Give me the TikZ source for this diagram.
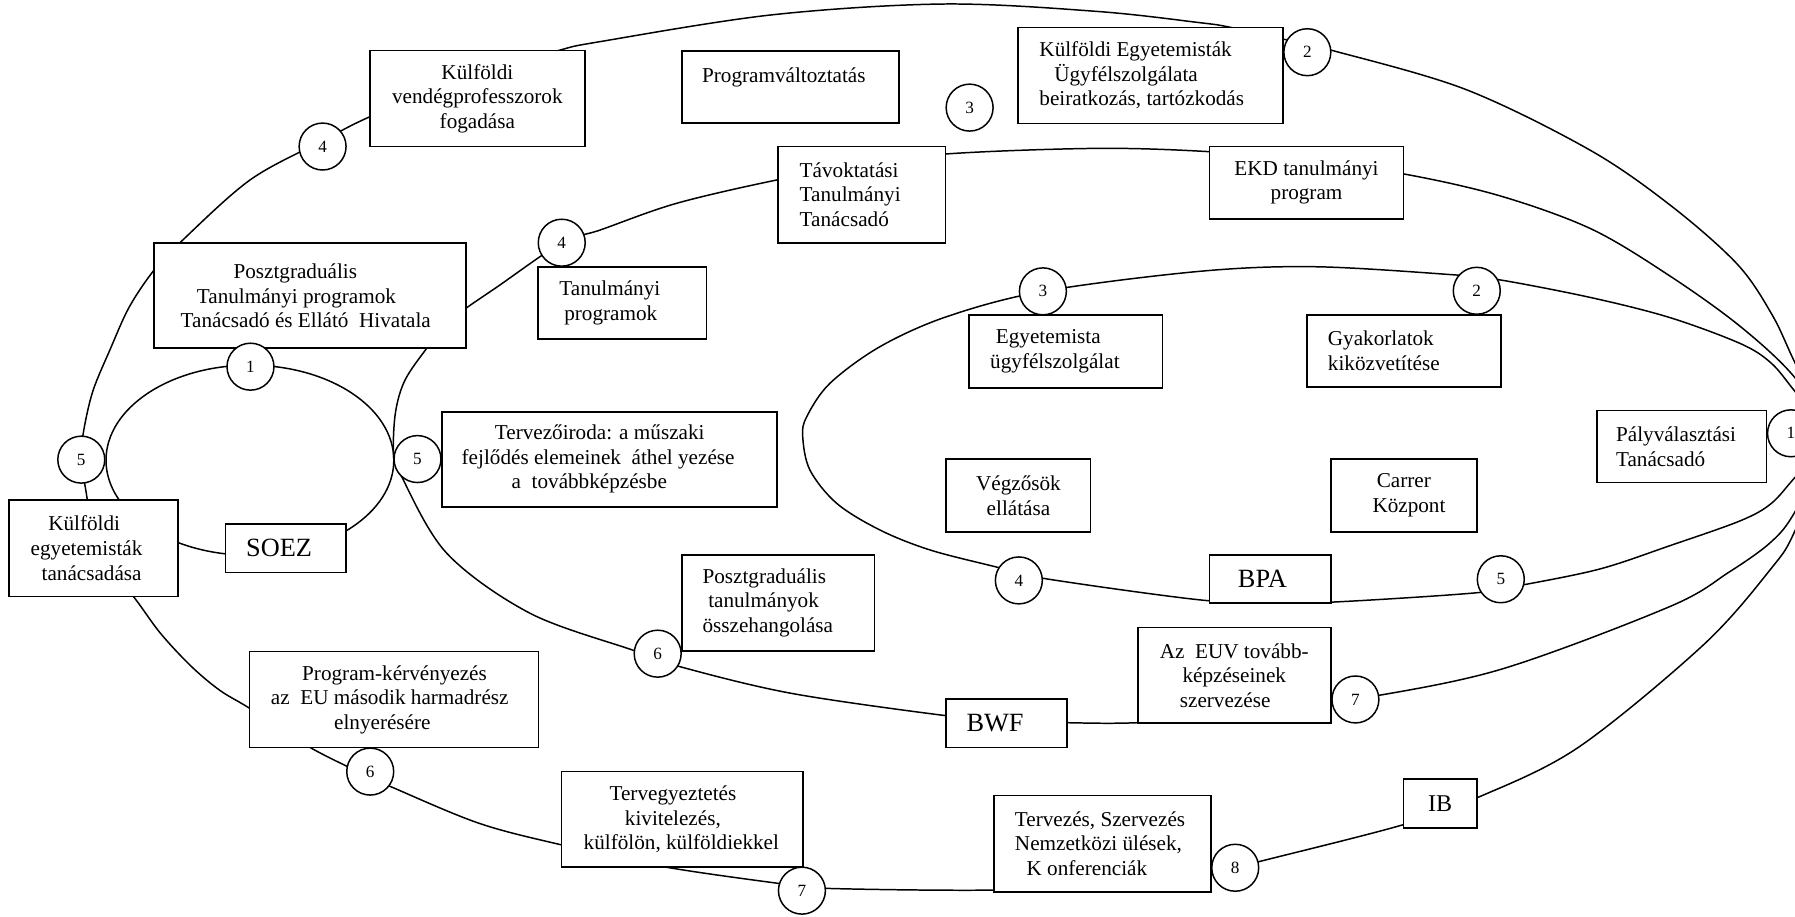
\documentclass[tikz,border=0pt]{standalone}
\usepackage{fontspec}
\setmainfont{Liberation Serif}
\usetikzlibrary{backgrounds}
\begin{document}
\begin{tikzpicture}[x=1pt,y=-1pt,
  box/.style={draw, fill=white, line width=1.5pt, rectangle, inner ysep=0pt, font=\fontsize{18.5}{21.5}\selectfont},
  lbox/.style={box, align=flush left},
  cbox/.style={box, align=flush center},
  big/.style={font=\fontsize{23}{26}\selectfont},
  circ/.style={circle, draw, fill=white, line width=1.3pt, minimum size=41pt, inner sep=0pt, font=\fontsize{15}{18}\selectfont},
  conn/.style={line width=1.3pt, line join=round}
]
\useasboundingbox (0,0) rectangle (1568,801);

% ---------- boxes ----------
\node[cbox, minimum width=188pt, minimum height=84pt, inner xsep=9pt, text width=170pt] (kvp) at (417,86) {Külföldi\\vendégprofesszorok\\fogadása};
\node[lbox, minimum width=189pt, minimum height=63pt, inner xsep=17.3pt, text width=154.4pt] (pv) at (690.5,76.2) {Programváltoztatás\\\mbox{}};
\node[lbox, minimum width=232pt, minimum height=84pt, inner xsep=19pt, text width=194pt] (keu) at (1005,66) {Külföldi Egyetemisták\\\hspace*{13pt}Ügyfélszolgálata\\\mbox{beiratkozás, tartózkodás}};
\node[lbox, minimum width=146.4pt, minimum height=84pt, inner xsep=19pt, text width=108.4pt] (tav) at (752.8,170) {Távoktatási\\Tanulmányi\\Tanácsadó};
\node[cbox, minimum width=169.4pt, minimum height=63pt, inner xsep=9pt, text width=151.4pt] (ekd) at (1141.3,159.5) {EKD tanulmányi\\program};
\node[lbox, minimum width=147.3pt, minimum height=63.4pt, inner xsep=18.9pt, text width=109.5pt] (tp) at (543.4,264.7) {Tanulmányi\\\hspace*{4.3pt}programok};
\node[lbox, minimum width=272.5pt, minimum height=91.7pt, inner xsep=23.3pt, text width=225.9pt] (pth) at (270.75,258.4) {\hspace*{46.2pt}Posztgraduális\\\hspace*{14.2pt}Tanulmányi programok\\\mbox{Tanácsadó és Ellátó~ Hivatala}};
\node[lbox, minimum width=293.2pt, minimum height=83pt, inner xsep=17.5pt, text width=258.2pt] (tervi) at (532.4,401.1) {\hspace*{29pt}Tervezőiroda: a műszaki\\\mbox{fejlődés elemeinek~ áthel yezése}\\\hspace*{43.7pt}a~ továbbképzésbe};
\node[lbox, minimum width=168pt, minimum height=83.6pt, inner xsep=17.7pt, text width=132.6pt] (tpo) at (680,526.6) {Posztgraduális\\\hspace*{5pt}tanulmányok\\összehangolása};
\node[lbox, minimum width=147.8pt, minimum height=84.2pt, inner xsep=18.8pt, text width=110.2pt] (ke) at (81.9,478.9) {\hspace*{15.4pt}Külföldi\\egyetemisták\\\hspace*{9.6pt}tanácsadása};
\node[lbox, big, minimum width=105.5pt, minimum height=42pt, inner xsep=18pt, text width=69.5pt] (soez) at (249.75,479) {SOEZ};
\node[lbox, minimum width=252.4pt, minimum height=83.8pt, inner xsep=18.7pt, text width=215pt] (pk) at (344.2,611.1) {\hspace*{27.3pt}Program-kérvényezés\\\mbox{az~ EU második harmadrész}\\\hspace*{55.2pt}elnyerésére};
\node[lbox, minimum width=210.9pt, minimum height=83.6pt, inner xsep=19.5pt, text width=171.9pt] (tg) at (595.85,715.8) {\hspace*{22.6pt}Tervegyeztetés\\\hspace*{36pt}kivitelezés,\\\mbox{külfölön, külföldiekkel}};
\node[lbox, minimum width=189.6pt, minimum height=84pt, inner xsep=18.6pt, text width=152.4pt] (tsz) at (962.8,737) {\mbox{Tervezés, Szervezés}\\Nemzetközi ülések,\\\hspace*{10.2pt}K onferenciák};
\node[cbox, minimum width=168.8pt, minimum height=83.5pt, inner xsep=9pt, text width=150.8pt] (euv) at (1078.2,590) {Az~ EUV tovább-\\képzéseinek\\\hspace*{-16pt}szervezése};
\node[cbox, minimum width=126.1pt, minimum height=63.2pt, inner xsep=5pt, text width=116.1pt] (veg) at (889.65,432.8) {Végzősök\\ellátása};
\node[cbox, minimum width=127.4pt, minimum height=63.6pt, inner xsep=5pt, text width=117.4pt] (car) at (1226.3,432.8) {Carrer\\\hspace*{9pt}Központ};
\node[lbox, minimum width=169pt, minimum height=64pt, inner xsep=18.5pt, text width=132pt] (egy) at (931,307) {\hspace*{5pt}Egyetemista\\ügyfélszolgálat};
\node[lbox, minimum width=169.4pt, minimum height=63pt, inner xsep=18.4pt, text width=132.6pt] (gyak) at (1226.3,306.5) {Gyakorlatok\\kiközvetítése};
\node[lbox, minimum width=148pt, minimum height=63pt, inner xsep=16.7pt, text width=114.6pt] (paly) at (1469,390) {Pályválasztási\\Tanácsadó};
\node[lbox, big, minimum width=106pt, minimum height=42pt, inner xsep=24.8pt, text width=56.4pt] (bpa) at (1109.6,506) {BPA};
\node[lbox, big, minimum width=105.4pt, minimum height=42.4pt, inner xsep=17.7pt, text width=70pt] (bwf) at (879.3,631.8) {BWF};
\node[cbox, font=\fontsize{21}{24}\selectfont, minimum width=64pt, minimum height=42.4pt, inner xsep=5pt, text width=54pt] (ib) at (1258,701.8) {IB};

% ---------- numbered circles ----------
\node[circ] (c4a) at (281.8,128) {4};
\node[circ] (c3t) at (847,94) {3};
\node[circ] (c2t) at (1142,45.6) {2};
\node[circ] (c4b) at (490.7,212) {4};
\node[circ] (c1s) at (218.8,320.3) {1};
\node[circ] (c3i) at (911,254.5) {3};
\node[circ] (c2i) at (1290,254) {2};
\node[circ] (c1r) at (1564.5,378.5) {1};
\node[circ] (c5l) at (71,401.5) {5};
\node[circ] (c5r) at (364.7,401) {5};
\node[circ] (c4i) at (890,507) {4};
\node[circ] (c5i) at (1311,506) {5};
\node[circ] (c6a) at (574.5,571) {6};
\node[circ] (c7a) at (1184,611) {7};
\node[circ] (c6b) at (323.4,674) {6};
\node[circ] (c8) at (1079,758) {8};
\node[circ] (c7b) at (700.5,778) {7};

\coordinate (conv) at (1600,382);
\coordinate (soezc) at (218.3,402);

% ---------- connectors ----------
\begin{scope}[on background layer]
% outer loop, upper part
\draw[conn] plot[smooth, tension=0.55] coordinates {(ke.center) (76.3,436.8) (c5l.center) (72.8,378) (81,342) (96,305.7) (113,268) (134.5,236) (157.2,212) (218.4,157.2) (281.8,123) (323,102) (405,68) (486,44.6) (524,36.4) (674,13) (824.6,3.5) (958.7,10) (1048,19.8) (1073,23.5) (1118,33.5) (1163.5,44) (1280,78) (1388.7,131) (1460,180) (1517.6,230.8) (1548,275) (1568,317) (conv)};
% outer loop, lower part
\draw[conn] plot[smooth, tension=0.55] coordinates {(ke.center) (116.5,521) (140,553) (167,582) (192,603) (218,618.7) (271,653) (323.4,679) (341,687) (418,719) (490.4,738) (579,757) (679.6,771.6) (721.3,776) (868,777.5) (970,772) (c8.center) (1099.6,752.7) (1224.7,720.7) (1290,697) (1378.5,653) (1488,563.3) (1547,496.8) (1568,463.6) (conv)};
% middle loop
\draw[conn] plot[smooth, tension=0.55] coordinates {(conv) (1568,447) (1547,473.5) (1510,500) (1458.3,530) (1310,585) (c7a.center) (1090,625) (993.8,631.3) (932,631.3) (880,629.5) (826.6,625.2) (691,605.6) (592.7,582) (553,568) (463,535.7) (390,483) (349.4,413.4) (343.8,395) (345.5,360) (353.8,332) (372.7,304.3) (390,283) (407,269.3) (434.6,250.4) (c4b.center) (524,201) (591,177.6) (679.6,157) (750,145) (826.4,134.5) (958.7,129.6) (1056.6,132.5) (1140,140) (1226.5,152) (1310,171) (1390,200) (1458.3,240.8) (1520,285) (1568,330) (conv)};
% inner loop
\draw[conn] plot[smooth, tension=0.55] coordinates {(conv) (1568,342) (1547,317) (1520,300) (1458.3,277.3) (1390,260) (1311,244.6) (1269,240) (1148.5,233) (1048,237) (c3i.center) (827,276.6) (768.7,302.8) (725,334.8) (704.7,364) (701.2,381.4) (707.5,410.6) (730.9,439.7) (768.7,463) (812.4,480.4) (869.2,495) (911.4,505.2) (1048,524) (1110,526) (1162.6,526) (1287.6,518) (1330,511) (1397.6,497) (1458.3,476.8) (1520,455) (1547,440) (1568,417) (conv)};
% SOEZ loop
\draw[conn] (soezc) ellipse [x radius=125.7, y radius=83];
\end{scope}
\end{tikzpicture}
\end{document}
